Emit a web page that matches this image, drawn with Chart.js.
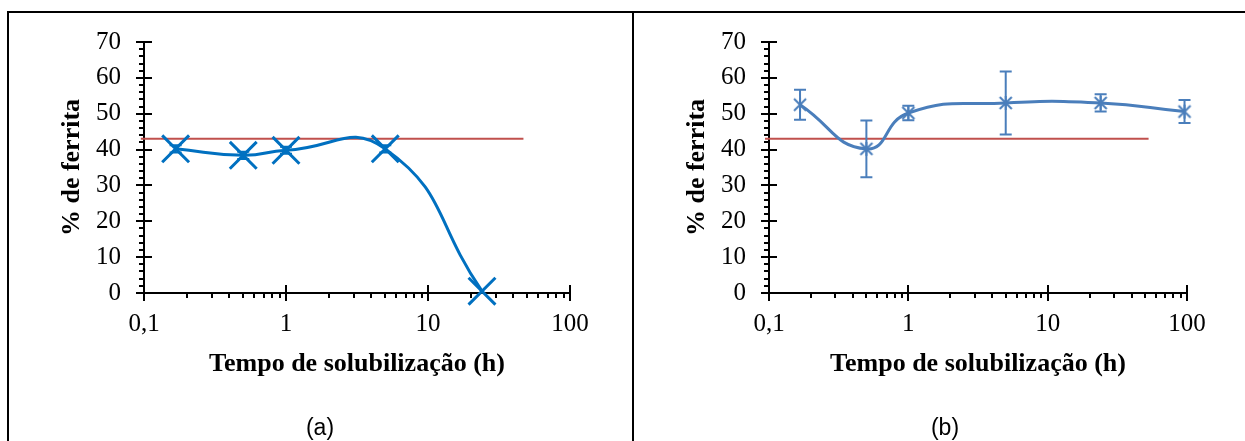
<!DOCTYPE html>
<html>
<head>
<meta charset="utf-8">
<script src="https://cdn.jsdelivr.net/npm/chart.js@4"></script>
<style>
  html, body { margin:0; padding:0; background:#fff; }
  #wrap { position:relative; width:1245px; height:441px; overflow:hidden; background:#fff; }
  canvas { position:absolute; top:0; }
  .ln { position:absolute; background:#000; }
  .cap { position:absolute; font-family:"Liberation Sans", Arial, sans-serif; font-size:23px; color:#000; transform:translateX(-50%); }
</style>
</head>
<body>
<div id="wrap">
  <canvas id="chartA" width="633" height="441" style="left:0;width:633px;height:441px"></canvas>
  <canvas id="chartB" width="612" height="441" style="left:633px;width:612px;height:441px"></canvas>
  <div class="ln" style="left:7px;top:11px;width:1238px;height:2px"></div>
  <div class="ln" style="left:7px;top:11px;width:2px;height:430px"></div>
  <div class="ln" style="left:632px;top:11px;width:2px;height:430px"></div>
  <div class="cap" style="left:320px;top:414px">(a)</div>
  <div class="cap" style="left:945px;top:414px">(b)</div>
</div>
<script>
// tempo (h) e % de ferrita
const tempoA = [0.167, 0.5, 1, 5, 24];
const ferritaA = [40.2, 38.4, 39.8, 40.2, 0.5];
const erroA = [1, 1, 1, 1, 0];

const tempoB = [0.167, 0.5, 1, 5, 24, 96];
const ferritaB = [52.5, 40.2, 50.2, 53.0, 53.0, 50.6];
const erroB = [4.2, 7.9, 2.0, 8.8, 2.4, 3.2];

// linha de referência
const refA = [0.095, 47];
const refB = [0.0936, 53];
const refValor = 43;

const xTicks = [0.1, 1, 10, 100];
const xTickLabels = ["0,1", "1", "10", "100"];

Chart.defaults.font.family = "'Liberation Serif', 'Times New Roman', serif";
Chart.defaults.color = "#000";

// estrela do Excel: X + traço vertical
function starImage(color){
  const c = document.createElement("canvas");
  c.width = 16; c.height = 16;
  const g = c.getContext("2d");
  g.strokeStyle = color; g.lineWidth = 2;
  g.beginPath();
  g.moveTo(2,2); g.lineTo(14,14);
  g.moveTo(14,2); g.lineTo(2,14);
  g.moveTo(8,1); g.lineTo(8,15);
  g.stroke();
  return c;
}

const axisTicks = {
  id:"axisTicks",
  afterDraw(chart){
    const {ctx, chartArea:a, scales:{x, y}} = chart;
    ctx.save();
    ctx.strokeStyle = "#000";
    ctx.lineWidth = 2;
    ctx.beginPath();
    for(let v = 0; v <= 70; v += 2){
      const py = Math.round(y.getPixelForValue(v));
      if(v % 10 === 0){ ctx.moveTo(a.left-8, py); ctx.lineTo(a.left+8, py); }
      else { ctx.moveTo(a.left-5, py); ctx.lineTo(a.left, py); }
    }
    xTicks.forEach((d, i) => {
      const px = Math.round(x.getPixelForValue(d));
      ctx.moveTo(px, a.bottom-8); ctx.lineTo(px, a.bottom+8);
      if(i < xTicks.length-1){
        for(let k = 2; k <= 9; k++){
          const pm = Math.round(x.getPixelForValue(d*k));
          ctx.moveTo(pm, a.bottom); ctx.lineTo(pm, a.bottom+5);
        }
      }
    });
    ctx.stroke();
    ctx.restore();
  }
};

const errorBars = {
  id:"errorBars",
  afterDatasetsDraw(chart, args, opts){
    const {ctx, scales:{x, y}} = chart;
    ctx.save();
    ctx.strokeStyle = opts.color;
    ctx.lineWidth = 2;
    ctx.beginPath();
    opts.xs.forEach((t, i) => {
      const e = opts.err[i];
      if(!e) return;
      const px = x.getPixelForValue(t);
      const top = y.getPixelForValue(opts.ys[i] + e);
      const bot = y.getPixelForValue(opts.ys[i] - e);
      ctx.moveTo(px, top); ctx.lineTo(px, bot);
      ctx.moveTo(px-6, top); ctx.lineTo(px+6, top);
      ctx.moveTo(px-6, bot); ctx.lineTo(px+6, bot);
    });
    ctx.stroke();
    ctx.restore();
  }
};

function makeChart(id, xs, ys, err, ref, cor, estilo, raio, larg, pad){
  return new Chart(document.getElementById(id).getContext("2d"), {
    type:"line",
    data:{
      datasets:[
        {
          data: xs.map((t, i) => ({x:t, y:ys[i]})),
          borderColor: cor,
          backgroundColor: cor,
          borderWidth: 3,
          tension: 0.5,
          pointStyle: estilo,
          pointRadius: raio,
          pointBorderWidth: larg,
          pointBorderColor: cor,
          clip: false
        },
        {
          data: ref.map(t => ({x:t, y:refValor})),
          borderColor: "#C0504D",
          borderWidth: 2,
          pointRadius: 0,
          clip: false
        }
      ]
    },
    options:{
      responsive:false,
      animation:false,
      layout:{padding:pad},
      plugins:{
        legend:{display:false},
        tooltip:{enabled:false},
        errorBars:{xs:xs, ys:ys, err:err, color:cor}
      },
      scales:{
        x:{
          type:"logarithmic",
          min:0.1, max:100,
          afterBuildTicks: s => { s.ticks = xTicks.map(v => ({value:v})); },
          afterFit: s => { s.height = 87; },
          grid:{display:false, drawTicks:true, tickLength:8},
          border:{color:"#000", width:2},
          ticks:{
            font:{size:25},
            padding:8,
            maxRotation:0,
            callback: v => { const i = xTicks.indexOf(v); return i < 0 ? "" : xTickLabels[i]; }
          },
          title:{display:true, text:"Tempo de solubilização (h)", font:{size:26, weight:"bold"}, padding:0}
        },
        y:{
          min:0, max:70,
          afterFit: s => { s.width = 87; },
          grid:{display:false, drawTicks:true, tickLength:8},
          border:{color:"#000", width:2},
          ticks:{stepSize:10, font:{size:25}, padding:15},
          title:{display:true, text:"% de ferrita", font:{size:26, weight:"bold"}, padding:0}
        }
      }
    },
    plugins:[errorBars, axisTicks]
  });
}

makeChart("chartA", tempoA, ferritaA, erroA, refA, "#0070C0", "crossRot", 19, 3,
  {left:57, right:63, top:42, bottom:61});
makeChart("chartB", tempoB, ferritaB, erroB, refB, "#4A7EBB", starImage("#4A7EBB"), 8, 2,
  {left:49, right:58, top:42, bottom:61});
</script>
</body>
</html>
